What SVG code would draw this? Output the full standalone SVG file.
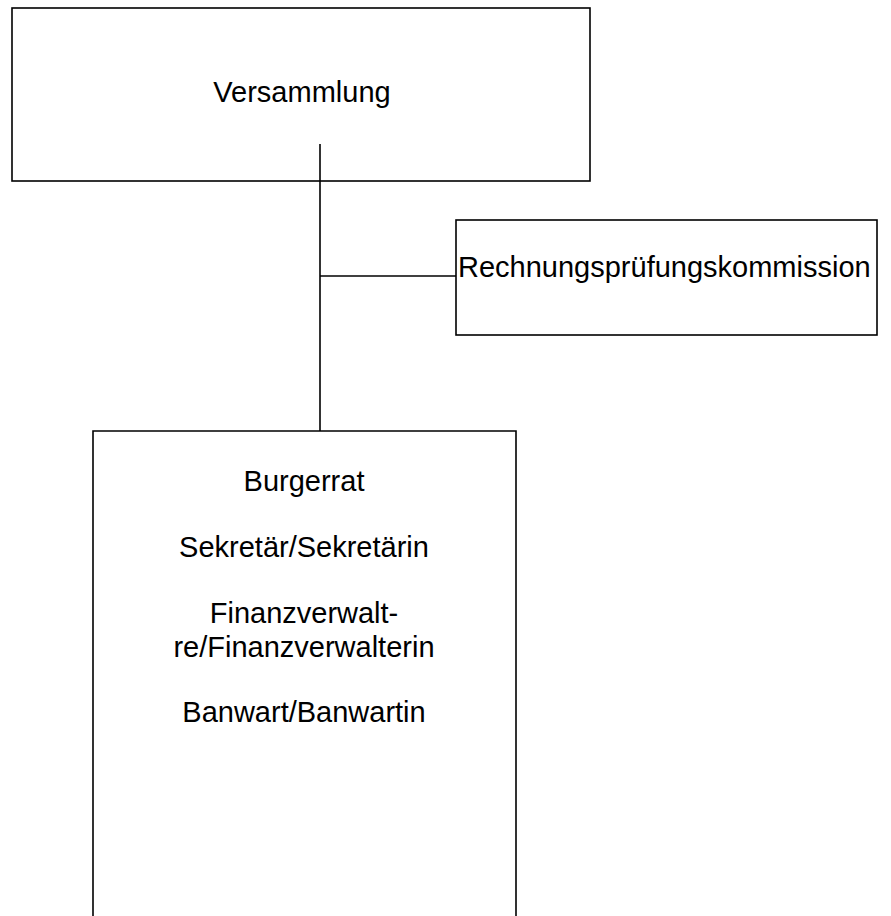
<svg xmlns="http://www.w3.org/2000/svg" width="891" height="916" viewBox="0 0 891 916">
<style>
.box{fill:#fff;stroke:#000;stroke-width:1.6}
.line{fill:none;stroke:#000;stroke-width:1.6}
text{font-family:"Liberation Sans",Arial,sans-serif;font-size:29px;fill:#000}
.c{text-anchor:middle}
</style>
<rect width="891" height="916" fill="#fff"/>
<g id="versammlung">
<rect class="box" x="12" y="8" width="578" height="173"/>
<text class="c" x="302" y="102">Versammlung</text>
</g>
<g id="rpk">
<rect class="box" x="456" y="220" width="421" height="115"/>
<text x="458" y="277">Rechnungsprüfungskommission</text>
</g>
<g id="burgerrat">
<path class="line" d="M93 920 V431 H516 V920"/>
<text class="c" x="304" y="491">Burgerrat</text>
<text class="c" x="304" y="557">Sekretär/Sekretärin</text>
<text class="c" x="304" y="623">Finanzverwalt-</text>
<text class="c" x="304" y="657">re/Finanzverwalterin</text>
<text class="c" x="304" y="722">Banwart/Banwartin</text>
</g>
<g id="connectors">
<line class="line" x1="320" y1="144" x2="320" y2="431"/>
<line class="line" x1="320" y1="276" x2="456" y2="276"/>
</g>
</svg>
